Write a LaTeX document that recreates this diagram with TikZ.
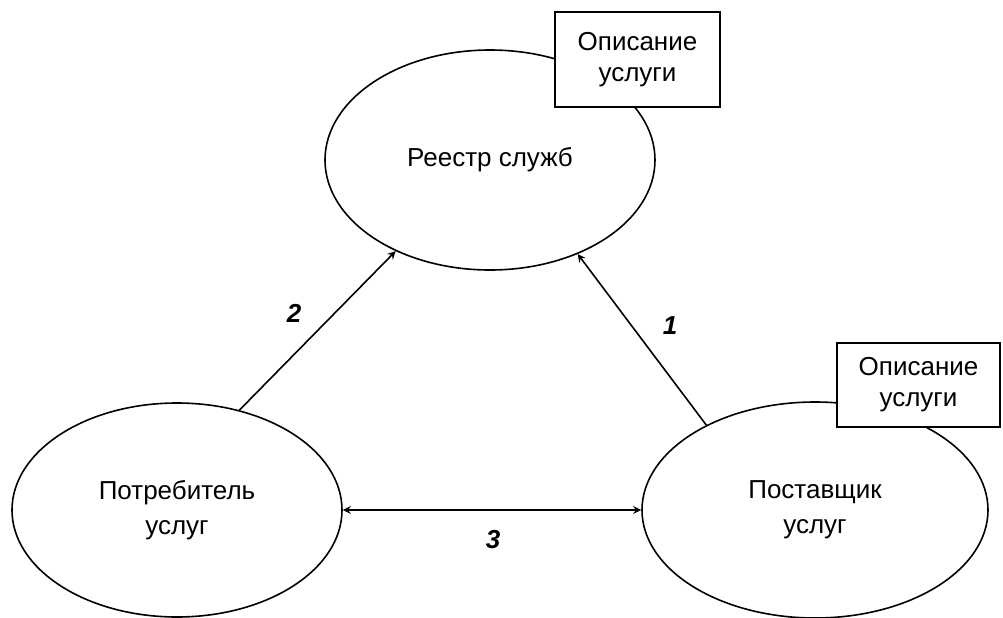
\documentclass[tikz,border=0pt]{standalone}
\usepackage{fontspec}
\setmainfont{Liberation Sans}
\usetikzlibrary{shapes.geometric,arrows}

\begin{document}
\begin{tikzpicture}[x=0.5pt, y=-0.5pt, >=stealth,
    actor/.style={ellipse, draw, thick, inner sep=0pt, align=center,
      font=\fontsize{13}{17.5}\selectfont},
    descr/.style={rectangle, draw, thick, fill=white, align=center,
      inner sep=0pt, font=\fontsize{13}{15.5}\selectfont},
    num/.style={font=\fontsize{13}{15}\selectfont\bfseries\itshape}]

  \useasboundingbox (0,0) rectangle (1003,617);

  \node[actor, minimum width=165pt, minimum height=110pt] (reg) at (490,160) {Реестр служб};
  \node[actor, minimum width=165pt, minimum height=107pt] (cons) at (177,510) {Потребитель\\услуг};
  \node[actor, minimum width=173pt, minimum height=108pt] (prov) at (815,510) {Поставщик\\услуг};

  \node[descr, minimum width=82.5pt, minimum height=47.5pt] (regdescr) at (637.5,59.5) {Описание\\услуги};
  \node[descr, minimum width=81.5pt, minimum height=42pt] (provdescr) at (918.5,385) {Описание\\услуги};

  %\draw[->] (cons) -- (reg);
  \draw[thick,->] (prov.142) -- (reg.313);
  \draw[thick,->] (cons.58) -- (reg.224);
  \draw[thick,<->] (cons.east) -- (prov.west);

  \node[num] (n1) at (670,326) {1};
  \node[num] (n2) at (294,313) {2};
  \node[num] (n3) at (493,540) {3};
\end{tikzpicture}
\end{document}
